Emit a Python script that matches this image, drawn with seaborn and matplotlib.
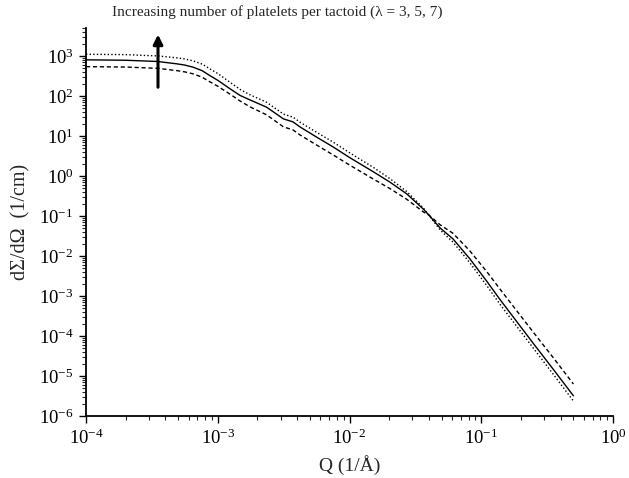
import numpy as np
import pandas as pd
import matplotlib
matplotlib.use('Agg')
import matplotlib.pyplot as plt
import seaborn as sns
from matplotlib.ticker import LogLocator, LogFormatterMathtext, NullFormatter

# Q values (1/Å)
q = [1.0e-4, 2.0e-4, 3.5e-4, 4.9e-4, 5.6e-4, 6.5e-4, 7.6e-4, 8.7e-4, 1.0e-3,
     1.24e-3, 1.48e-3, 1.76e-3, 2.35e-3, 3.15e-3, 3.72e-3, 4.2e-3,
     5.6e-3, 7.5e-3, 1.0e-2, 1.52e-2, 2.03e-2, 2.72e-2, 3.63e-2,
     4.0e-2, 4.87e-2, 6.1e-2, 8.2e-2, 0.111, 0.138, 0.25, 0.355, 0.5]

# dSigma/dOmega (1/cm) for lambda = 3 (dashed), 5 (solid), 7 (dotted)
i_lam5 = [795, 776, 722, 631, 589, 521, 427, 322, 245,
          150, 102, 79, 52, 26.6, 22.4, 16.8,
          9.4, 5.3, 2.88, 1.26, 0.695, 0.355, 0.148,
          0.105, 0.05, 0.0266, 8.4e-3, 2.24e-3, 8.3e-4, 6.3e-5, 1.41e-5, 3.2e-6]
i_lam3 = [537, 525, 487, 427, 398, 355, 293, 225, 174,
          110, 74, 53, 33.5, 16.8, 14.1, 10.6,
          5.96, 3.35, 1.87, 0.83, 0.48, 0.26, 0.126,
          0.105, 0.06, 0.0367, 0.0133, 3.9e-3, 1.51e-3, 1.2e-4, 2.75e-5, 6.3e-6]
i_lam7 = [1096, 1072, 995, 891, 838, 750, 624, 475, 362,
          218, 144, 106, 69, 35.1, 29.5, 22.1,
          12.4, 7.0, 3.8, 1.62, 0.85, 0.405, 0.158,
          0.105, 0.0446, 0.0221, 6.7e-3, 1.74e-3, 6.3e-4, 4.8e-5, 1.06e-5, 2.37e-6]

sns.set_style('ticks')
plt.rcParams['font.family'] = ['Liberation Serif', 'DejaVu Serif']
plt.rcParams['mathtext.fontset'] = 'custom'
plt.rcParams['mathtext.rm'] = 'Liberation Serif'
plt.rcParams['mathtext.it'] = 'Liberation Serif:italic'

fig = plt.figure(figsize=(6.29, 4.78), dpi=100)
ax = fig.add_axes([0.1367, 0.1297, 0.838, 0.812])

sns.lineplot(x=q, y=i_lam3, ax=ax, color='black', lw=1.0, linestyle=(0, (3, 2)))
sns.lineplot(x=q, y=i_lam5, ax=ax, color='black', lw=1.0, linestyle='-')
sns.lineplot(x=q, y=i_lam7, ax=ax, color='black', lw=1.0, linestyle=(0, (1, 1.6)))

ax.set_xscale('log')
ax.set_yscale('log')
ax.set_xlim(1e-4, 1)
ax.set_ylim(1e-6, 5e3)

ax.xaxis.set_major_locator(LogLocator(base=10, numticks=10))
ax.xaxis.set_minor_locator(LogLocator(base=10, subs=np.arange(2, 10), numticks=20))
ax.yaxis.set_major_locator(LogLocator(base=10, numticks=15))
ax.yaxis.set_minor_locator(LogLocator(base=10, subs=np.arange(2, 10), numticks=20))
ax.xaxis.set_major_formatter(LogFormatterMathtext())
ax.yaxis.set_major_formatter(LogFormatterMathtext())
ax.xaxis.set_minor_formatter(NullFormatter())
ax.yaxis.set_minor_formatter(NullFormatter())

ax.tick_params(which='major', direction='out', length=5, width=1.0, labelsize=13.5,
               colors='black', pad=4)
ax.tick_params(which='minor', direction='out', length=3, width=0.8)
sns.despine(ax=ax)
for s in ['left', 'bottom']:
    ax.spines[s].set_linewidth(1.3)
    ax.spines[s].set_color('black')

ax.set_xlabel('Q (1/Å)', fontsize=14, labelpad=5)
ax.set_ylabel('dΣ/dΩ  (1/cm)', fontsize=14.5, labelpad=6)

# arrow and note
ax.annotate('', xy=(3.52e-4, 4.0e3), xytext=(3.52e-4, 140),
            arrowprops=dict(arrowstyle='-|>', lw=2.2, color='black', mutation_scale=14),
            annotation_clip=False)
fig.text(0.44, 0.975, 'Increasing number of platelets per tactoid (λ = 3, 5, 7)',
         ha='center', va='center', fontsize=11)

plt.savefig('out.png', dpi=100)
